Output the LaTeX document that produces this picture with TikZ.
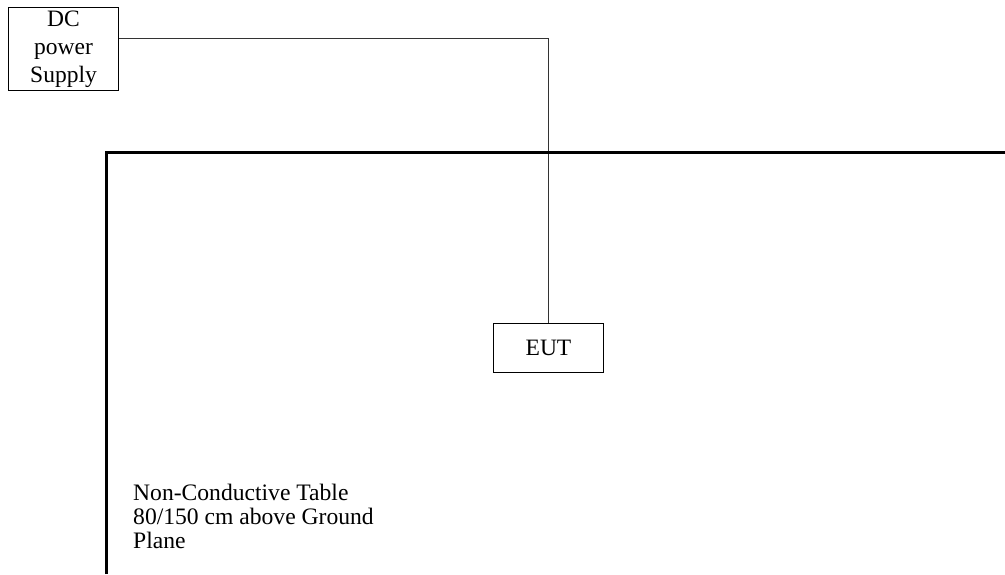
\documentclass[tikz,border=0pt]{standalone}
\usepackage{fontspec}
\setmainfont{Liberation Serif}
\begin{document}
\begin{tikzpicture}[x=1pt,y=-1pt,
  box/.style={draw=black, line width=1.1pt, rectangle, inner sep=0pt, align=center},
  wire/.style={draw=black!80, line width=1pt},
  tableedge/.style={draw=black, line width=3pt},
  lbl/.style={inner sep=0pt, align=left, anchor=north west}]
\useasboundingbox (0,0) rectangle (1005,574);
\node[box, minimum width=110pt, minimum height=83pt,
      font=\fontsize{23.5}{28}\selectfont] (dc) at (63.5,49) {DC\\power\\Supply};
\node[box, minimum width=110pt, minimum height=49pt,
      font=\fontsize{23.5}{28}\selectfont] (eut) at (548.5,348) {EUT};
\node[lbl, font=\fontsize{23.6}{24}\selectfont] (tbl) at (133,484)
  {Non-Conductive Table\\80/150 cm above Ground\\Plane};
\draw[wire] ([yshift=10.7pt]dc.east) -| (eut.north);
\draw[tableedge] (106,574) -- (106,152) -- (1005,152);
\end{tikzpicture}
\end{document}
